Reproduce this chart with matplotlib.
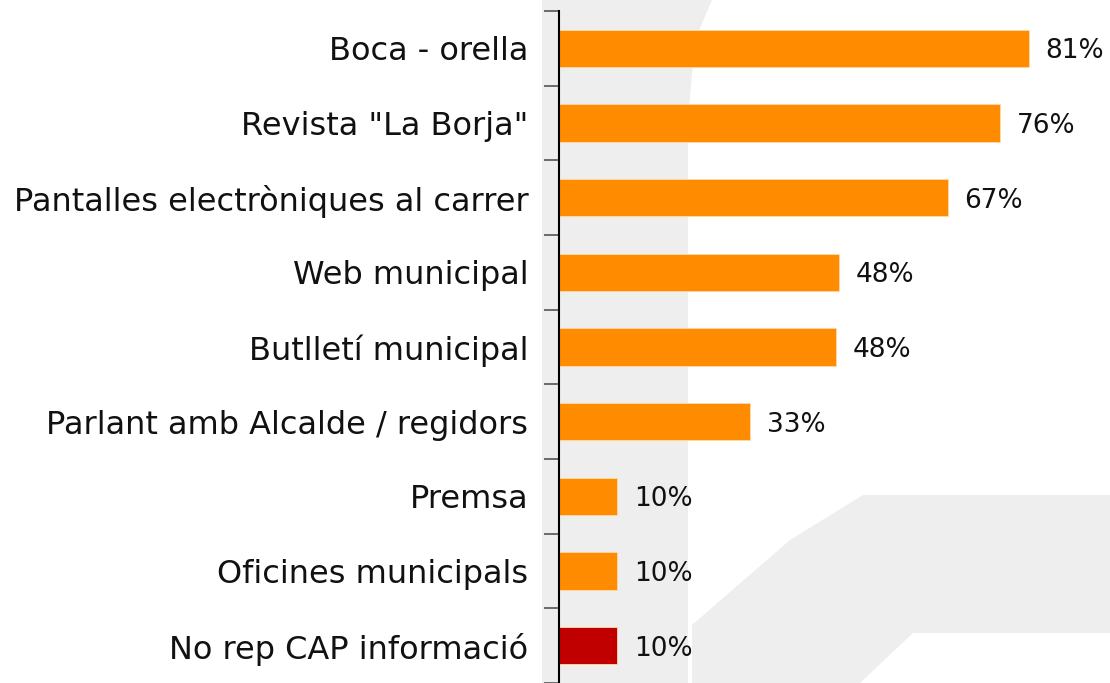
import numpy as np
import matplotlib.pyplot as plt
from matplotlib.patches import Polygon

categories = [
    "Boca - orella",
    'Revista "La Borja"',
    "Pantalles electròniques al carrer",
    "Web municipal",
    "Butlletí municipal",
    "Parlant amb Alcalde / regidors",
    "Premsa",
    "Oficines municipals",
    "No rep CAP informació",
]
values = [81, 76, 67, 48.2, 47.7, 33, 10, 10, 10]
labels = ["81%", "76%", "67%", "48%", "48%", "33%", "10%", "10%", "10%"]
colors = ["#ff8c00"] * 8 + ["#c00000"]

W, H = 1110, 683
fig = plt.figure(figsize=(W / 100, H / 100), dpi=100)
fig.patch.set_facecolor("white")

# faint watermark shapes in the background (pixel coords -> figure fraction)
def fig_poly(pts):
    pts = np.array(pts, dtype=float)
    pts[:, 0] /= W
    pts[:, 1] = 1 - pts[:, 1] / H
    return Polygon(pts, closed=True, transform=fig.transFigure,
                   facecolor="#eeeeee", edgecolor="none", zorder=0)

fig.add_artist(fig_poly([(542, 0), (712, 0), (695, 40), (688, 120),
                         (688, 683), (542, 683)]))
fig.add_artist(fig_poly([(863, 495), (1110, 495), (1110, 633), (913, 633),
                         (860, 683), (692, 683), (692, 625), (790, 540)]))

ax = fig.add_axes([559 / W, 0, 1 - 559 / W, 1 - 11 / H])
ax.patch.set_alpha(0)

y = np.arange(len(categories))
ax.barh(y, values, height=0.5, color=colors, edgecolor="#ffd9a8", linewidth=0.6)
ax.set_ylim(len(categories) - 0.54, -0.5)
ax.set_xlim(0, 95)

for yi, v, lab in zip(y, values, labels):
    ax.text(v + 2.9, yi + 0.04, lab, va="center", ha="left",
            fontsize=19, family="DejaVu Sans", color="#111111")

ax.set_yticks(np.arange(len(categories) + 1) - 0.5)
ax.set_yticklabels([])
ax.set_yticks(y, minor=True)
ax.set_yticklabels(categories, minor=True, fontsize=23, family="DejaVu Sans",
                   color="#111111")
ax.tick_params(axis="y", which="major", length=11, color="#555555", width=1.2)
ax.tick_params(axis="y", which="minor", length=0, pad=22)

ax.set_xticks([])
for side in ["top", "right", "bottom"]:
    ax.spines[side].set_visible(False)
ax.spines["left"].set_linewidth(1.5)
ax.spines["left"].set_color("black")

fig.savefig("out.png", dpi=100)
